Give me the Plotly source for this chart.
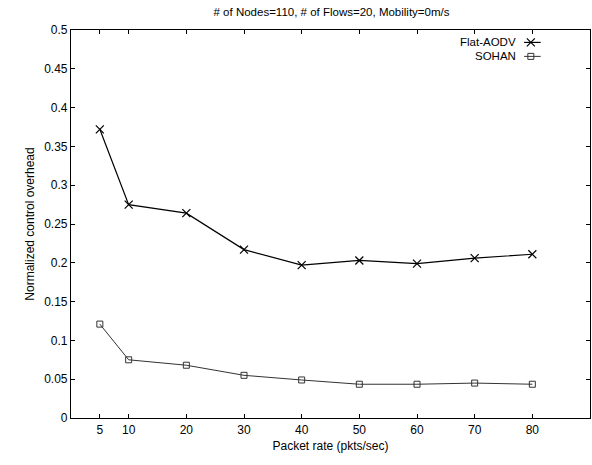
import plotly.graph_objects as go

rates = [5, 10, 20, 30, 40, 50, 60, 70, 80]
flat_aodv = [0.372, 0.275, 0.264, 0.217, 0.197, 0.203, 0.199, 0.206, 0.211]
sohan = [0.121, 0.075, 0.068, 0.055, 0.049, 0.0435, 0.0435, 0.045, 0.0435]
x_ticks = [5, 10, 20, 30, 40, 50, 60, 70, 80]
y_ticks = [0, 0.05, 0.1, 0.15, 0.2, 0.25, 0.3, 0.35, 0.4, 0.45, 0.5]
y_tick_text = ["0", "0.05", "0.1", "0.15", "0.2", "0.25", "0.3", "0.35", "0.4", "0.45", "0.5"]
series_names = ["Flat-AODV", "SOHAN"]

FONT = "Liberation Sans, Arial, sans-serif"

fig = go.Figure()
fig.add_trace(go.Scatter(
    x=rates, y=flat_aodv, mode="lines+markers", name=series_names[0],
    line=dict(color="black", width=1.2),
    marker=dict(symbol="x-thin-open", size=8, color="black", line=dict(width=1.2, color="black")),
    showlegend=False,
))
fig.add_trace(go.Scatter(
    x=rates, y=sohan, mode="lines+markers", name=series_names[1],
    line=dict(color="#333333", width=1),
    marker=dict(symbol="square-open", size=6, color="#333333", line=dict(width=1, color="#333333")),
    showlegend=False,
))

# Gnuplot-style key (text then sample) drawn on an overlay axis spanning the plot area
leg_y = [0.968, 0.932]
fig.add_trace(go.Scatter(
    x=[0.873, 0.905], y=[leg_y[0], leg_y[0]], mode="lines", xaxis="x2", yaxis="y2",
    line=dict(color="black", width=1.2), showlegend=False, hoverinfo="skip"))
fig.add_trace(go.Scatter(
    x=[0.886], y=[leg_y[0]], mode="markers", xaxis="x2", yaxis="y2",
    marker=dict(symbol="x-thin-open", size=8, color="black", line=dict(width=1.2, color="black")),
    showlegend=False, hoverinfo="skip"))
fig.add_trace(go.Scatter(
    x=[0.873, 0.905], y=[leg_y[1], leg_y[1]], mode="lines", xaxis="x2", yaxis="y2",
    line=dict(color="#333333", width=1), showlegend=False, hoverinfo="skip"))
fig.add_trace(go.Scatter(
    x=[0.886], y=[leg_y[1]], mode="markers", xaxis="x2", yaxis="y2",
    marker=dict(symbol="square-open", size=6, color="#333333", line=dict(width=1, color="#333333")),
    showlegend=False, hoverinfo="skip"))

for name, yy in zip(series_names, leg_y):
    fig.add_annotation(x=0.862, y=yy, xref="x2", yref="y2", text=name, showarrow=False,
                       xanchor="right", yanchor="middle",
                       font=dict(family=FONT, size=11.5, color="black"))

fig.update_layout(
    width=592, height=465,
    margin=dict(l=71, r=2, t=30, b=47),
    paper_bgcolor="white", plot_bgcolor="white",
    font=dict(family=FONT, size=12, color="black"),
    title=dict(text="# of Nodes=110, # of Flows=20, Mobility=0m/s", x=0.56, xanchor="center",
               y=0.975, yanchor="middle", font=dict(family=FONT, size=11.5, color="black")),
    xaxis=dict(range=[0, 90], tickvals=x_ticks, ticktext=[str(v) for v in x_ticks],
               ticks="inside", ticklen=4, tickcolor="black", showgrid=False, zeroline=False,
               showline=True, linecolor="black", linewidth=1.2, mirror="ticks",
               title=dict(text="Packet rate (pkts/sec)", standoff=6, font=dict(size=12)),
               tickfont=dict(size=12)),
    yaxis=dict(range=[0, 0.5], tickvals=y_ticks, ticktext=y_tick_text,
               ticks="inside", ticklen=4, tickcolor="black", showgrid=False, zeroline=False,
               showline=True, linecolor="black", linewidth=1.2, mirror="ticks",
               title=dict(text="Normalized control overhead", standoff=6, font=dict(size=12)),
               tickfont=dict(size=12)),
    xaxis2=dict(range=[0, 1], overlaying="x", visible=False, anchor="y2"),
    yaxis2=dict(range=[0, 1], overlaying="y", visible=False, anchor="x2"),
)

fig.write_html("out.html")
